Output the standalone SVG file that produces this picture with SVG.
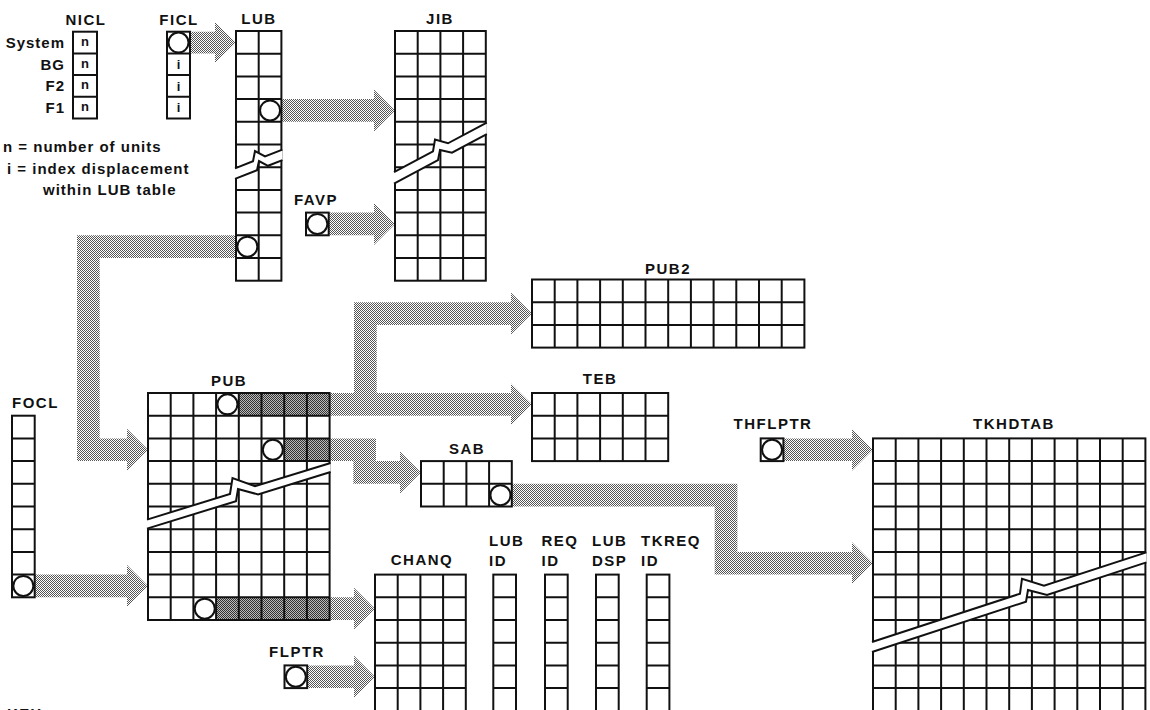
<svg xmlns="http://www.w3.org/2000/svg" width="1150" height="710" viewBox="0 0 1150 710">
<defs>
<pattern id="dither" patternUnits="userSpaceOnUse" width="2" height="2">
<rect width="2" height="2" fill="#fff"/>
<rect width="1" height="1" fill="#555"/>
<rect x="1" y="1" width="1" height="1" fill="#555"/>
</pattern>
<pattern id="dither2" patternUnits="userSpaceOnUse" width="2" height="2">
<rect width="2" height="2" fill="#bbb"/>
<rect width="1" height="1" fill="#333"/>
<rect x="1" y="1" width="1" height="1" fill="#333"/>
</pattern>
</defs>
<style>
.g{fill:none;stroke:#111;stroke-width:2}
.bg{fill:#fff}
.box{fill:#fff;stroke:#111;stroke-width:2}
.frame{fill:none;stroke:#111;stroke-width:2}
.c{fill:#fff;stroke:#111;stroke-width:2}
.band{fill:url(#dither)}
.shade{fill:url(#dither2)}
.brk{fill:#fff;stroke:none}
.brkl{fill:none;stroke:#111;stroke-width:2;stroke-linejoin:miter}
text{font-family:"Liberation Sans",Arial,sans-serif;font-size:15px;font-weight:bold;fill:#111}
.lb{letter-spacing:1.5px;text-anchor:middle}
.ll{letter-spacing:1.5px}
.tx{letter-spacing:1px}
.end{text-anchor:end}
.sm{font-size:13px;text-anchor:middle}
</style>
<rect width="1150" height="710" fill="#fff"/>

<g id="connectors">
<polygon class="band" points="190,31.7 215,31.7 215,22 236,42.5 215,63 215,53.4 190,53.4"/>
<polygon class="band" points="281.4,99.1 374,99.1 374,89.5 395,110.45 374,131.4 374,121.8 281.4,121.8"/>
<polygon class="band" points="328.7,212.6 374,212.6 374,203 395,223.95 374,244.9 374,235.3 328.7,235.3"/>
<polygon class="band" points="236,235.3 77,235.3 77,461.1 127,461.1 127,470.7 148,449.75 127,428.8 127,438.4 99.7,438.4 99.7,258 236,258"/>
<polygon class="band" points="34.7,574.6 127,574.6 127,565 148,585.95 127,606.9 127,597.3 34.7,597.3"/>
<polygon class="band" points="329.6,393 354,393 354,302.2 511,302.2 511,292.6 532,313.55 511,334.5 511,324.9 376.7,324.9 376.7,393 511,393 511,383.4 532,404.35 511,425.3 511,415.7 329.6,415.7"/>
<polygon class="band" points="329.6,438.4 376,438.4 376,461.1 400,461.1 400,451.5 421,472.45 400,493.4 400,483.8 353.3,483.8 353.3,461.1 329.6,461.1"/>
<polygon class="band" points="329.6,597.3 354,597.3 354,587.7 375,608.65 354,629.6 354,620 329.6,620"/>
<polygon class="band" points="307.2,665.4 354,665.4 354,655.8 375,676.75 354,697.7 354,688.1 307.2,688.1"/>
<polygon class="band" points="511.8,483.8 737.4,483.8 737.4,551.9 852,551.9 852,542.3 873,563.25 852,584.2 852,574.6 714.7,574.6 714.7,506.5 511.8,506.5"/>
<polygon class="band" points="783.4,438.4 852,438.4 852,428.8 873,449.75 852,470.7 852,461.1 783.4,461.1"/>
</g>

<g id="NICL">
<text class="lb" x="86" y="25">NICL</text>
<rect class="box" x="73" y="31.7" width="24" height="86.8"/>
<path class="g" d="M73 53.4H97M73 75.1H97M73 96.8H97"/>
<text class="sm" x="85" y="46">n</text>
<text class="sm" x="85" y="67.7">n</text>
<text class="sm" x="85" y="89.4">n</text>
<text class="sm" x="85" y="111.1">n</text>
<text class="tx end" x="65" y="48">System</text>
<text class="tx end" x="65" y="69.7">BG</text>
<text class="tx end" x="65" y="91.4">F2</text>
<text class="tx end" x="65" y="113.1">F1</text>
</g>

<g id="FICL">
<text class="lb" x="179" y="25">FICL</text>
<rect class="box" x="167" y="31.7" width="23" height="86.8"/>
<path class="g" d="M167 53.4H190M167 75.1H190M167 96.8H190"/>
<circle class="c" cx="178.5" cy="42.55" r="10"/>
<text class="sm" x="178.5" y="68.8">i</text>
<text class="sm" x="178.5" y="90.5">i</text>
<text class="sm" x="178.5" y="112.2">i</text>
</g>

<g id="legend">
<text class="tx" x="3" y="152">n = number of units</text>
<text class="tx" x="7" y="174">i = index displacement</text>
<text class="tx" x="43" y="195">within LUB table</text>
<text class="ll" x="7" y="719">KEY</text>
</g>

<g id="LUB">
<text class="lb" x="259" y="24">LUB</text>
<rect class="box" x="236" y="31" width="45.4" height="249.7"/>
<path class="g" d="M258.7 31V280.7M236 53.7H281.4M236 76.4H281.4M236 99.1H281.4M236 121.8H281.4M236 144.5H281.4M236 167.2H281.4M236 189.9H281.4M236 212.6H281.4M236 235.3H281.4M236 258H281.4"/>
<circle class="c" cx="270.05" cy="110.45" r="10"/>
<circle class="c" cx="247.35" cy="246.65" r="10"/>
<polygon class="brk" points="235,168.4 253,161.3 255,151 265,156.5 282.4,149.6 282.4,160.1 268,165.8 259,161 257,170.2 235,178.9"/>
<polyline class="brkl" points="235,168.4 253,161.3 255,151 265,156.5 282.4,149.6"/>
<polyline class="brkl" points="235,178.9 257,170.2 259,161 268,165.8 282.4,160.1"/>
</g>

<g id="JIB">
<text class="lb" x="440" y="24">JIB</text>
<rect class="box" x="395" y="31" width="90.8" height="249.7"/>
<path class="g" d="M417.7 31V280.7M440.4 31V280.7M463.1 31V280.7M395 53.7H485.8M395 76.4H485.8M395 99.1H485.8M395 121.8H485.8M395 144.5H485.8M395 167.2H485.8M395 189.9H485.8M395 212.6H485.8M395 235.3H485.8M395 258H485.8"/>
<polygon class="brk" points="394,172.2 433,151.4 435,139.5 448,143.3 486.8,122.6 486.8,134.1 452,152.7 440,150 438,160.2 394,183.7"/>
<polyline class="brkl" points="394,172.2 433,151.4 435,139.5 448,143.3 486.8,122.6"/>
<polyline class="brkl" points="394,183.7 438,160.2 440,150 452,152.7 486.8,134.1"/>
</g>

<g id="FAVP">
<text class="lb" x="316" y="205">FAVP</text>
<rect class="box" x="306" y="212.6" width="22.7" height="22.7"/>
<circle class="c" cx="317.35" cy="223.95" r="10"/>
</g>

<g id="PUB">
<text class="lb" x="229" y="386">PUB</text>
<rect class="bg" x="148" y="393" width="181.6" height="227"/>
<rect class="shade" x="238.8" y="393" width="90.8" height="22.7"/>
<rect class="shade" x="284.2" y="438.4" width="45.4" height="22.7"/>
<rect class="shade" x="216.1" y="597.3" width="113.5" height="22.7"/>
<path class="g" d="M170.7 393V620M193.4 393V620M216.1 393V620M238.8 393V620M261.5 393V620M284.2 393V620M306.9 393V620M148 415.7H329.6M148 438.4H329.6M148 461.1H329.6M148 483.8H329.6M148 506.5H329.6M148 529.2H329.6M148 551.9H329.6M148 574.6H329.6M148 597.3H329.6"/>
<rect class="frame" x="148" y="393" width="181.6" height="227"/>
<circle class="c" cx="227.45" cy="404.35" r="10"/>
<circle class="c" cx="272.85" cy="449.75" r="10"/>
<circle class="c" cx="204.75" cy="608.65" r="10"/>
<polygon class="brk" points="147,519.6 230,494 232.5,478 255,486.3 330.6,463 330.6,472 258,494.4 238,489 236,501.2 147,528.6"/>
<polyline class="brkl" points="147,519.6 230,494 232.5,478 255,486.3 330.6,463"/>
<polyline class="brkl" points="147,528.6 236,501.2 238,489 258,494.4 330.6,472"/>
</g>

<g id="FOCL">
<text class="ll" x="12" y="408">FOCL</text>
<rect class="box" x="12" y="415.7" width="22.7" height="181.6"/>
<path class="g" d="M12 438.4H34.7M12 461.1H34.7M12 483.8H34.7M12 506.5H34.7M12 529.2H34.7M12 551.9H34.7M12 574.6H34.7"/>
<circle class="c" cx="23.35" cy="585.95" r="10"/>
</g>

<g id="PUB2">
<text class="lb" x="668" y="274">PUB2</text>
<rect class="box" x="532" y="279.5" width="272.4" height="68.1"/>
<path class="g" d="M554.7 279.5V347.6M577.4 279.5V347.6M600.1 279.5V347.6M622.8 279.5V347.6M645.5 279.5V347.6M668.2 279.5V347.6M690.9 279.5V347.6M713.6 279.5V347.6M736.3 279.5V347.6M759 279.5V347.6M781.7 279.5V347.6M532 302.2H804.4M532 324.9H804.4"/>
</g>

<g id="TEB">
<text class="lb" x="600" y="384">TEB</text>
<rect class="box" x="532" y="393" width="136.2" height="68.1"/>
<path class="g" d="M554.7 393V461.1M577.4 393V461.1M600.1 393V461.1M622.8 393V461.1M645.5 393V461.1M532 415.7H668.2M532 438.4H668.2"/>
</g>

<g id="SAB">
<text class="lb" x="467" y="453.5">SAB</text>
<rect class="box" x="421" y="461.1" width="90.8" height="45.4"/>
<path class="g" d="M443.7 461.1V506.5M466.4 461.1V506.5M489.1 461.1V506.5M421 483.8H511.8"/>
<circle class="c" cx="500.45" cy="495.15" r="10"/>
</g>

<g id="CHANQ">
<text class="lb" x="422" y="565">CHANQ</text>
<rect class="box" x="375" y="574.6" width="90.8" height="150"/>
<path class="g" d="M397.7 574.6V725M420.4 574.6V725M443.1 574.6V725M375 597.3H465.8M375 620H465.8M375 642.7H465.8M375 665.4H465.8M375 688.1H465.8"/>
</g>

<g id="LUBID">
<text class="ll" x="489" y="546">LUB</text>
<text class="ll" x="489" y="566">ID</text>
<rect class="box" x="493.3" y="574.6" width="22.7" height="150"/>
<path class="g" d="M493.3 597.3H516M493.3 620H516M493.3 642.7H516M493.3 665.4H516M493.3 688.1H516"/>
</g>

<g id="REQID">
<text class="ll" x="541.5" y="546">REQ</text>
<text class="ll" x="541.5" y="566">ID</text>
<rect class="box" x="545" y="574.6" width="22.7" height="150"/>
<path class="g" d="M545 597.3H567.7M545 620H567.7M545 642.7H567.7M545 665.4H567.7M545 688.1H567.7"/>
</g>

<g id="LUBDSP">
<text class="ll" x="592" y="546">LUB</text>
<text class="ll" x="592" y="566">DSP</text>
<rect class="box" x="596" y="574.6" width="22.7" height="150"/>
<path class="g" d="M596 597.3H618.7M596 620H618.7M596 642.7H618.7M596 665.4H618.7M596 688.1H618.7"/>
</g>

<g id="TKREQID">
<text class="ll" x="641" y="546">TKREQ</text>
<text class="ll" x="641" y="566">ID</text>
<rect class="box" x="646.7" y="574.6" width="22.7" height="150"/>
<path class="g" d="M646.7 597.3H669.4M646.7 620H669.4M646.7 642.7H669.4M646.7 665.4H669.4M646.7 688.1H669.4"/>
</g>

<g id="FLPTR">
<text class="lb" x="297" y="657">FLPTR</text>
<rect class="box" x="284.5" y="665.4" width="22.7" height="22.7"/>
<circle class="c" cx="295.85" cy="676.75" r="10"/>
</g>

<g id="THFLPTR">
<text class="lb" x="773" y="429">THFLPTR</text>
<rect class="box" x="760.7" y="438.4" width="22.7" height="22.7"/>
<circle class="c" cx="772.05" cy="449.75" r="10"/>
</g>

<g id="TKHDTAB">
<text class="lb" x="1014" y="429">TKHDTAB</text>
<rect class="box" x="873" y="438.4" width="272.4" height="290"/>
<path class="g" d="M895.7 438.4V725M918.4 438.4V725M941.1 438.4V725M963.8 438.4V725M986.5 438.4V725M1009.2 438.4V725M1031.9 438.4V725M1054.6 438.4V725M1077.3 438.4V725M1100 438.4V725M1122.7 438.4V725M873 461.1H1145.4M873 483.8H1145.4M873 506.5H1145.4M873 529.2H1145.4M873 551.9H1145.4M873 574.6H1145.4M873 597.3H1145.4M873 620H1145.4M873 642.7H1145.4M873 665.4H1145.4M873 688.1H1145.4"/>
<polygon class="brk" points="872,642 1020,593.7 1022,578.7 1044,585.8 1146.4,552.4 1146.4,562.4 1047,594.9 1028,590 1026,601.7 872,652"/>
<polyline class="brkl" points="872,642 1020,593.7 1022,578.7 1044,585.8 1146.4,552.4"/>
<polyline class="brkl" points="872,652 1026,601.7 1028,590 1047,594.9 1146.4,562.4"/>
</g>
</svg>
